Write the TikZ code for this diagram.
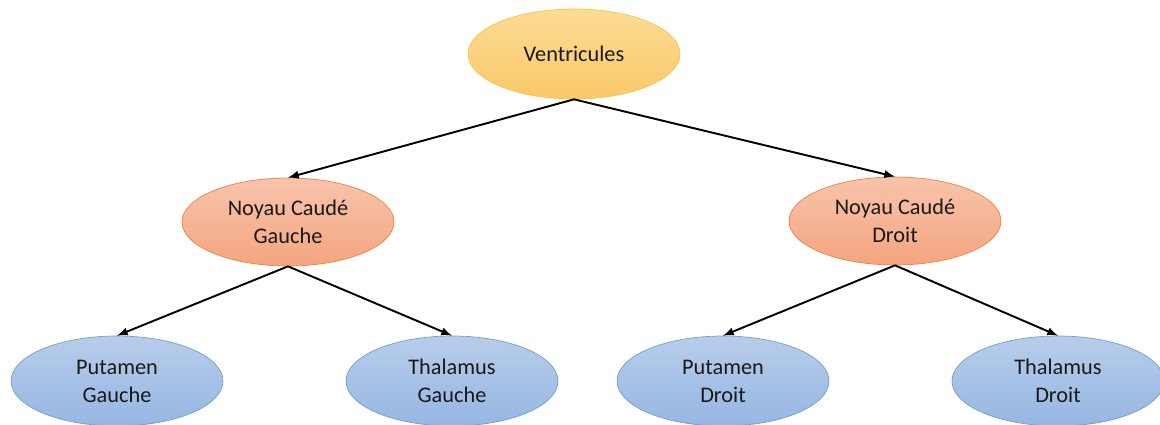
\documentclass[tikz,border=0pt]{standalone}
\usepackage{fontspec}
\setmainfont{Carlito}
\usetikzlibrary{shapes.geometric}
\usetikzlibrary{arrows}

\definecolor{ventTop}{RGB}{253,220,150}
\definecolor{ventBot}{RGB}{250,200,105}
\definecolor{ventLine}{RGB}{250,195,60}
\definecolor{noyTop}{RGB}{248,196,172}
\definecolor{noyBot}{RGB}{244,165,128}
\definecolor{noyLine}{RGB}{237,130,65}
\definecolor{leafTop}{RGB}{184,205,234}
\definecolor{leafBot}{RGB}{150,182,226}
\definecolor{leafLine}{RGB}{110,160,212}

\begin{document}
\begin{tikzpicture}[x=0.02cm, y=-0.02cm,
		every node/.style={ellipse, minimum width=4.24cm, minimum height=1.8cm, align=center, text=black!90, font=\fontsize{12.7}{15.9}\selectfont},
		vent/.style={top color=ventTop, bottom color=ventBot, draw=ventLine},
		noyau/.style={top color=noyTop, bottom color=noyBot, draw=noyLine},
		leaf/.style={top color=leafTop, bottom color=leafBot, draw=leafLine},
		link/.style={-latex, line width=1.1pt, black}]
			\useasboundingbox (0,0) rectangle (1160,425);
			\node[vent] (V) at (574,54) {Ventricules};
			
			\node[noyau, minimum height=1.76cm] (NCG) at (288,222) {Noyau Caudé\\Gauche};
			\node[noyau, minimum height=1.76cm] (NCD) at (895,221) {Noyau Caudé\\Droit};
			
			\node[leaf] (PG) at (117,381) {Putamen\\Gauche};
			\node[leaf] (TG) at (452,381) {Thalamus\\Gauche};
			\node[leaf] (PD) at (723,381) {Putamen\\Droit};
			\node[leaf] (TD) at (1058,381) {Thalamus\\Droit};
			
			\path[link] (V.south) edge (NCG.north);
			\path[link] (V.south) edge (NCD.north);
			\path[link] (NCG.south) edge (PG.north);
			\path[link] (NCG.south) edge (TG.north);
			\path[link] (NCD.south) edge (PD.north);
			\path[link] (NCD.south) edge (TD.north);
			\end{tikzpicture}
\end{document}
